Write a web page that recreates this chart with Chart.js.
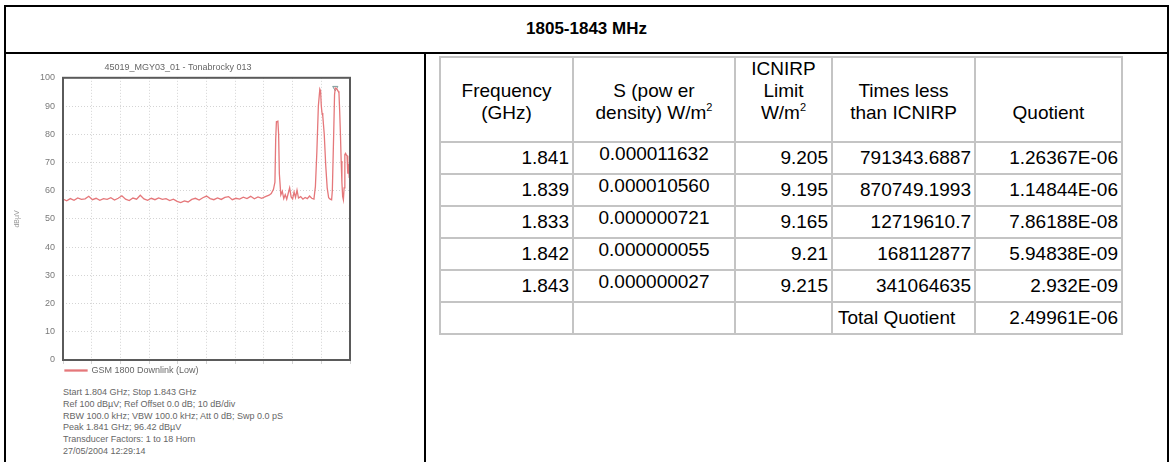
<!DOCTYPE html>
<html>
<head>
<meta charset="utf-8">
<script src="https://cdn.jsdelivr.net/npm/chart.js@4.4.0/dist/chart.umd.min.js"></script>
<style>
  body { margin: 0; background: #fff; font-family: "Liberation Sans", Arial, sans-serif; }
  #page { position: relative; width: 1171px; height: 462px; overflow: hidden; }
  #frame { position: absolute; left: 4px; top: 5px; width: 1161px; height: 480px; border: 2px solid #000; }
  #titleLine { position: absolute; left: 4px; top: 52px; width: 1165px; height: 2px; background: #000; }
  #divider { position: absolute; left: 424px; top: 53px; width: 2px; height: 420px; background: #000; }
  #title { position: absolute; left: 4px; width: 1165px; top: 19px; text-align: center; font-weight: bold; font-size: 17px; line-height: 20px; }
  #chartBox { position: absolute; left: 6px; top: 55px; width: 362px; height: 330px; }
  #info { position: absolute; left: 63px; top: 387px; font-size: 9px; line-height: 11.8px; color: #666; white-space: pre; }
  #results { position: absolute; left: 439px; top: 56px; border-collapse: collapse; table-layout: fixed; font-size: 19px; line-height: 22px; color: #000; }
  #results td { border: 2px solid #c4c4c4; padding: 0 3px 0 3px; white-space: nowrap; overflow: hidden; }
  #results tr.head td { height: 64px; padding-bottom: 17px; vertical-align: bottom; text-align: center; }
  #results tr.row td { height: 30px; vertical-align: middle; text-align: right; }
  #results tr.row td.sval { text-align: center; vertical-align: top; }
  #results td.label { text-align: left !important; padding-left: 5px; }
  #results sup { font-size: 11px; line-height: 0; vertical-align: 8px; }
</style>
</head>
<body>
<div id="page">
  <div id="frame"></div>
  <div id="titleLine"></div>
  <div id="divider"></div>
  <div id="title">1805-1843 MHz</div>
  <div id="chartBox"><canvas id="spectrum" width="362" height="330"></canvas></div>
  <div id="info"></div>
  <table id="results">
    <colgroup>
      <col style="width:133px"><col style="width:162px"><col style="width:97px"><col style="width:143px"><col style="width:147px">
    </colgroup>
    <tbody id="resultsBody"></tbody>
  </table>
</div>
<script>
// spectrum trace (GHz / dBuV)
const specFreqs = [
  1.8040, 1.8045, 1.8050, 1.8055, 1.8060, 1.8065, 1.8070, 1.8075, 1.8080, 1.8085,
  1.8090, 1.8095, 1.8100, 1.8105, 1.8110, 1.8115, 1.8120, 1.8125, 1.8130, 1.8135,
  1.8140, 1.8145, 1.8150, 1.8155, 1.8160, 1.8165, 1.8170, 1.8175, 1.8180, 1.8185,
  1.8190, 1.8195, 1.8200, 1.8205, 1.8210, 1.8215, 1.8220, 1.8225, 1.8230, 1.8235,
  1.8240, 1.8245, 1.8250, 1.8255, 1.8260, 1.8265, 1.8270, 1.8275, 1.8280, 1.8285,
  1.8290, 1.8295, 1.8300, 1.8305, 1.8310, 1.8315, 1.8320,
  1.8323, 1.8326, 1.8328, 1.8329, 1.8330, 1.8332, 1.8333, 1.8334, 1.8336, 1.8338,
  1.8340, 1.8342, 1.8344, 1.8346, 1.8348, 1.8350, 1.8352, 1.8354, 1.8356, 1.8358,
  1.8360, 1.8363, 1.8366, 1.8369, 1.8372, 1.8375, 1.8378, 1.8381, 1.8383, 1.8385,
  1.8387, 1.8389, 1.8390, 1.8391, 1.8392, 1.8393, 1.8395, 1.8397, 1.8399, 1.8401,
  1.8403, 1.8405, 1.8406, 1.8408, 1.8409, 1.8410, 1.8412, 1.8414, 1.8415, 1.8416,
  1.8417, 1.8418, 1.8419, 1.8420, 1.8421, 1.8422, 1.8423, 1.8424, 1.8425, 1.8426,
  1.8427, 1.8428, 1.8429, 1.8430
];
const specLevels = [
  57.0, 56.4, 57.2, 56.6, 57.4, 56.9, 57.1, 58.0, 56.8, 57.3,
  56.6, 57.2, 56.9, 57.5, 56.7, 57.3, 58.2, 57.0, 56.5, 57.4,
  57.0, 58.4, 57.1, 56.6, 57.3, 56.8, 57.4, 56.9, 57.2, 56.5,
  57.0, 56.2, 55.8, 56.4, 56.0, 56.9, 57.3, 56.7, 57.5, 58.1,
  57.2, 56.8, 57.4, 56.9, 57.6, 57.9, 56.8, 57.3, 57.0, 57.7,
  57.2, 58.0, 57.1, 57.8, 57.3, 57.9, 58.4,
  59.0, 60.5, 63.0, 78.0, 84.4, 84.6, 80.0, 66.0, 58.5, 59.8,
  57.2, 58.6, 57.0, 59.0, 61.0, 57.8, 57.1, 59.5, 57.6, 60.2,
  57.4, 57.9, 57.0, 57.6, 57.2, 58.1, 57.3, 57.0, 61.5, 74.0,
  90.0, 96.0, 95.4, 90.0, 87.5, 86.5, 80.0, 69.0, 61.0, 57.5,
  57.0, 56.8, 60.0, 82.0, 94.0, 96.4, 96.1, 95.2, 94.6, 88.0,
  80.0, 70.5, 63.0, 58.0, 56.8, 61.0, 72.8, 73.2, 72.6, 72.4,
  66.0, 69.5, 64.5, 68.0
];
const peakFreq = [1.841];
const peakLevel = [96.42];

const infoLines = [
  'Start 1.804 GHz; Stop 1.843 GHz',
  'Ref 100 dB\u00b5V; Ref Offset 0.0 dB; 10 dB/div',
  'RBW 100.0 kHz; VBW 100.0 kHz; Att 0 dB; Swp 0.0 pS',
  'Peak 1.841 GHz; 96.42 dB\u00b5V',
  'Transducer Factors: 1 to 18 Horn',
  '27/05/2004 12:29:14'
];

// results table
const freqGHz = ['1.841', '1.839', '1.833', '1.842', '1.843'];
const powerDensity = ['0.000011632', '0.000010560', '0.000000721', '0.000000055', '0.000000027'];
const icnirpLimit = ['9.205', '9.195', '9.165', '9.21', '9.215'];
const timesLess = ['791343.6887', '870749.1993', '12719610.7', '168112877', '341064635'];
const quotient = ['1.26367E-06', '1.14844E-06', '7.86188E-08', '5.94838E-09', '2.932E-09'];
const totalQuotient = '2.49961E-06';

document.getElementById('info').textContent = infoLines.join('\n');

// build the table
var body = document.getElementById('resultsBody');
var head = document.createElement('tr');
head.className = 'head';
head.innerHTML = '<td>Frequency<br>(GHz)</td>' +
  '<td>S (pow er<br>density) W/m<sup>2</sup></td>' +
  '<td>ICNIRP<br>Limit<br>W/m<sup>2</sup></td>' +
  '<td>Times less<br>than ICNIRP</td>' +
  '<td>Quotient</td>';
body.appendChild(head);
for (let i = 0; i < freqGHz.length; i++) {
  var tr = document.createElement('tr');
  tr.className = 'row';
  tr.innerHTML = '<td>' + freqGHz[i] + '</td>' +
    '<td class="sval">' + powerDensity[i] + '</td>' +
    '<td>' + icnirpLimit[i] + '</td>' +
    '<td>' + timesLess[i] + '</td>' +
    '<td>' + quotient[i] + '</td>';
  body.appendChild(tr);
}
var last = document.createElement('tr');
last.className = 'row';
last.innerHTML = '<td></td><td></td><td></td><td class="label">Total Quotient</td><td>' + totalQuotient + '</td>';
body.appendChild(last);

// dark frame round the plot area
const plotFrame = {
  id: 'plotFrame',
  afterDatasetsDraw(chart) {
    const ctx = chart.ctx;
    const a = chart.chartArea;
    ctx.save();
    ctx.strokeStyle = '#5a5a5a';
    ctx.lineWidth = 2;
    ctx.strokeRect(a.left, a.top, a.right - a.left, a.bottom - a.top);
    ctx.restore();
  }
};

Chart.defaults.font.family = '"Liberation Sans", Arial, sans-serif';

const spectrumChart = new Chart(document.getElementById('spectrum'), {
  type: 'line',
  data: {
    datasets: [{
      label: 'GSM 1800 Downlink (Low)',
      data: specFreqs.map((f, i) => ({x: f, y: specLevels[i]})),
      borderColor: '#e5777a',
      backgroundColor: '#e5777a',
      borderWidth: 1.3,
      pointRadius: 0,
      tension: 0
    }, {
      label: 'Peak',
      data: peakFreq.map((f, i) => ({x: f, y: peakLevel[i]})),
      showLine: false,
      pointStyle: 'triangle',
      rotation: 180,
      pointRadius: 3,
      borderColor: '#7d9a9a',
      backgroundColor: 'rgba(255,255,255,0)',
      borderWidth: 1
    }]
  },
  options: {
    responsive: false,
    animation: false,
    devicePixelRatio: 1,
    layout: { padding: { left: 0, right: 18, top: 0, bottom: 0 } },
    plugins: {
      title: {
        display: true,
        text: '45019_MGY03_01 - Tonabrocky 013',
        color: '#666',
        font: { size: 9, weight: 'normal' },
        padding: { top: 7, bottom: 5 }
      },
      legend: {
        position: 'bottom',
        align: 'start',
        fullSize: false,
        labels: {
          boxWidth: 22,
          boxHeight: 1,
          padding: 2,
          color: '#666',
          font: { size: 9 },
          filter: item => item.datasetIndex === 0
        }
      },
      tooltip: { enabled: false }
    },
    scales: {
      x: {
        type: 'linear',
        min: 1.804,
        max: 1.843,
        ticks: { display: false, stepSize: 0.0039 },
        grid: { color: '#d4d4d4', drawTicks: true, tickLength: 4 },
        border: { display: false, dash: [1, 2] }
      },
      y: {
        min: 0,
        max: 100,
        ticks: { stepSize: 10, color: '#7a7a7a', font: { size: 9 }, padding: 8 },
        grid: { color: '#d4d4d4', drawTicks: false },
        border: { display: false, dash: [1, 2] },
        title: { display: true, text: 'dB\u00b5V', color: '#999', font: { size: 7 }, padding: { top: 7, bottom: 0 } },
        afterFit: function(scale) { scale.width = 57; }
      }
    }
  },
  plugins: [plotFrame]
});
</script>
</body>
</html>
